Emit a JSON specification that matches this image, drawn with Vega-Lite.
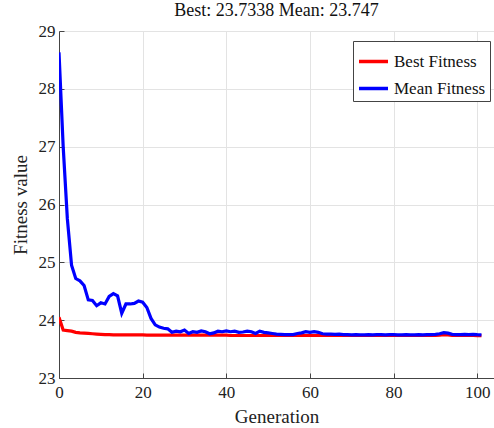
{
  "$schema": "https://vega.github.io/schema/vega-lite/v6.json",
  "width": 435,
  "height": 347,
  "autosize": "none",
  "padding": {"left": 59, "top": 31, "right": 0, "bottom": 50},
  "background": "white",
  "title": {
    "text": "Best: 23.7338 Mean: 23.747",
    "font": "Liberation Serif, DejaVu Serif, serif",
    "fontSize": 18,
    "fontWeight": "normal",
    "color": "#111111",
    "anchor": "middle",
    "offset": 2
  },
  "config": {
    "view": {"stroke": null},
    "axis": {
      "labelFont": "Liberation Serif, DejaVu Serif, serif",
      "titleFont": "Liberation Serif, DejaVu Serif, serif",
      "labelFontSize": 17,
      "titleFontSize": 19,
      "titleFontWeight": "normal",
      "labelColor": "#222222",
      "titleColor": "#222222",
      "gridColor": "#e3e3e3",
      "gridWidth": 1,
      "domainColor": "#444444",
      "tickColor": "#444444",
      "domainWidth": 1,
      "tickSize": -5
    },
    "legend": {
      "labelFont": "Liberation Serif, DejaVu Serif, serif",
      "labelFontSize": 17,
      "labelColor": "#111111"
    }
  },
  "data": {
    "values": [
      {"g":0,"best":24.05,"mean":28.63},
      {"g":1,"best":23.83,"mean":27.0},
      {"g":2,"best":23.82,"mean":25.75},
      {"g":3,"best":23.81,"mean":24.95},
      {"g":4,"best":23.79,"mean":24.72},
      {"g":5,"best":23.78,"mean":24.68},
      {"g":6,"best":23.775,"mean":24.6},
      {"g":7,"best":23.77,"mean":24.35},
      {"g":8,"best":23.765,"mean":24.34},
      {"g":9,"best":23.76,"mean":24.25},
      {"g":10,"best":23.755,"mean":24.3},
      {"g":11,"best":23.75,"mean":24.28},
      {"g":12,"best":23.75,"mean":24.41},
      {"g":13,"best":23.745,"mean":24.46},
      {"g":14,"best":23.745,"mean":24.42},
      {"g":15,"best":23.745,"mean":24.12},
      {"g":16,"best":23.745,"mean":24.28},
      {"g":17,"best":23.745,"mean":24.28},
      {"g":18,"best":23.745,"mean":24.29},
      {"g":19,"best":23.745,"mean":24.33},
      {"g":20,"best":23.745,"mean":24.31},
      {"g":21,"best":23.74,"mean":24.22},
      {"g":22,"best":23.74,"mean":24.03},
      {"g":23,"best":23.74,"mean":23.92},
      {"g":24,"best":23.74,"mean":23.88},
      {"g":25,"best":23.74,"mean":23.86},
      {"g":26,"best":23.74,"mean":23.85},
      {"g":27,"best":23.74,"mean":23.79},
      {"g":28,"best":23.74,"mean":23.81},
      {"g":29,"best":23.74,"mean":23.8},
      {"g":30,"best":23.74,"mean":23.83},
      {"g":31,"best":23.74,"mean":23.77},
      {"g":32,"best":23.74,"mean":23.8},
      {"g":33,"best":23.74,"mean":23.79},
      {"g":34,"best":23.74,"mean":23.815},
      {"g":35,"best":23.74,"mean":23.8},
      {"g":36,"best":23.74,"mean":23.765},
      {"g":37,"best":23.74,"mean":23.78},
      {"g":38,"best":23.74,"mean":23.81},
      {"g":39,"best":23.74,"mean":23.8},
      {"g":40,"best":23.74,"mean":23.815},
      {"g":41,"best":23.735,"mean":23.8},
      {"g":42,"best":23.735,"mean":23.81},
      {"g":43,"best":23.735,"mean":23.79},
      {"g":44,"best":23.735,"mean":23.795},
      {"g":45,"best":23.735,"mean":23.81},
      {"g":46,"best":23.735,"mean":23.8},
      {"g":47,"best":23.735,"mean":23.77},
      {"g":48,"best":23.735,"mean":23.81},
      {"g":49,"best":23.735,"mean":23.79},
      {"g":50,"best":23.735,"mean":23.78},
      {"g":51,"best":23.735,"mean":23.77},
      {"g":52,"best":23.735,"mean":23.76},
      {"g":53,"best":23.735,"mean":23.755},
      {"g":54,"best":23.735,"mean":23.75},
      {"g":55,"best":23.735,"mean":23.75},
      {"g":56,"best":23.735,"mean":23.75},
      {"g":57,"best":23.735,"mean":23.77},
      {"g":58,"best":23.735,"mean":23.78},
      {"g":59,"best":23.735,"mean":23.8},
      {"g":60,"best":23.735,"mean":23.79},
      {"g":61,"best":23.735,"mean":23.8},
      {"g":62,"best":23.735,"mean":23.79},
      {"g":63,"best":23.735,"mean":23.765},
      {"g":64,"best":23.735,"mean":23.76},
      {"g":65,"best":23.735,"mean":23.76},
      {"g":66,"best":23.735,"mean":23.755},
      {"g":67,"best":23.735,"mean":23.76},
      {"g":68,"best":23.735,"mean":23.75},
      {"g":69,"best":23.735,"mean":23.75},
      {"g":70,"best":23.735,"mean":23.745},
      {"g":71,"best":23.735,"mean":23.75},
      {"g":72,"best":23.735,"mean":23.745},
      {"g":73,"best":23.735,"mean":23.745},
      {"g":74,"best":23.735,"mean":23.75},
      {"g":75,"best":23.735,"mean":23.745},
      {"g":76,"best":23.735,"mean":23.75},
      {"g":77,"best":23.735,"mean":23.75},
      {"g":78,"best":23.735,"mean":23.745},
      {"g":79,"best":23.735,"mean":23.75},
      {"g":80,"best":23.735,"mean":23.75},
      {"g":81,"best":23.735,"mean":23.745},
      {"g":82,"best":23.735,"mean":23.745},
      {"g":83,"best":23.735,"mean":23.75},
      {"g":84,"best":23.735,"mean":23.745},
      {"g":85,"best":23.735,"mean":23.745},
      {"g":86,"best":23.735,"mean":23.75},
      {"g":87,"best":23.735,"mean":23.745},
      {"g":88,"best":23.735,"mean":23.75},
      {"g":89,"best":23.735,"mean":23.75},
      {"g":90,"best":23.735,"mean":23.755},
      {"g":91,"best":23.74,"mean":23.765},
      {"g":92,"best":23.75,"mean":23.785},
      {"g":93,"best":23.745,"mean":23.775},
      {"g":94,"best":23.735,"mean":23.755},
      {"g":95,"best":23.735,"mean":23.75},
      {"g":96,"best":23.735,"mean":23.75},
      {"g":97,"best":23.735,"mean":23.755},
      {"g":98,"best":23.735,"mean":23.75},
      {"g":99,"best":23.735,"mean":23.755},
      {"g":100,"best":23.734,"mean":23.75},
      {"g":101,"best":23.7338,"mean":23.747}
    ]
  },
  "transform": [
    {"fold": ["best", "mean"], "as": ["key", "value"]}
  ],
  "mark": {"type": "line", "strokeWidth": 3.2, "clip": true},
  "encoding": {
    "x": {
      "field": "g",
      "type": "quantitative",
      "scale": {"domain": [0, 104], "nice": false, "zero": false},
      "axis": {"values": [0, 20, 40, 60, 80, 100], "title": "Generation", "labelPadding": 11, "titlePadding": 7, "labelFlush": false}
    },
    "y": {
      "field": "value",
      "type": "quantitative",
      "scale": {"domain": [23, 29], "nice": false, "zero": false},
      "axis": {"values": [23, 24, 25, 26, 27, 28, 29], "title": "Fitness value", "labelPadding": 9, "titlePadding": 8, "labelFlush": false}
    },
    "color": {
      "field": "key",
      "type": "nominal",
      "scale": {"domain": ["best", "mean"], "range": ["#ff0000", "#0000ff"]},
      "legend": {
        "title": null,
        "orient": "none",
        "legendX": 294,
        "legendY": 10,
        "symbolType": "stroke",
        "symbolSize": 841,
        "symbolStrokeWidth": 3.5,
        "labelExpr": "datum.label == 'best' ? 'Best Fitness' : 'Mean Fitness'",
        "strokeColor": "#444444",
        "fillColor": "white",
        "padding": 4,
        "rowPadding": 2,
        "labelOffset": 4
      }
    }
  }
}
